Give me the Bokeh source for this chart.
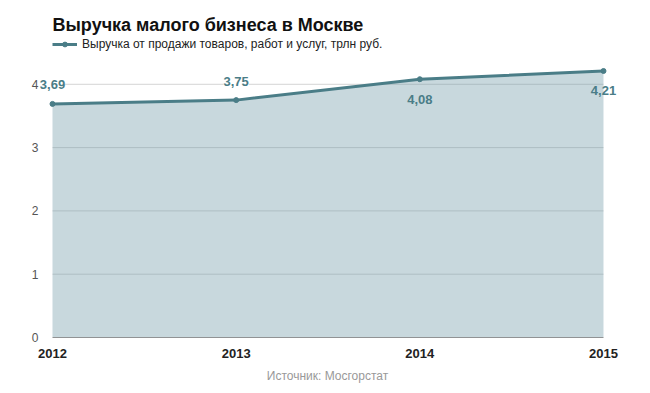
from bokeh.plotting import figure
from bokeh.models import (ColumnDataSource, Range1d, FixedTicker, Label, Legend,
                          LegendItem, Title, CustomJSTickFormatter)
from bokeh.embed import file_html
from bokeh.resources import INLINE

# ---- data ----
years = [2012, 2013, 2014, 2015]
revenue = [3.69, 3.75, 4.08, 4.21]
value_labels = ["3,69", "3,75", "4,08", "4,21"]
label_side = ["above", "above", "below", "below"]
y_ticks = [0, 1, 2, 3, 4]

title_text = "Выручка малого бизнеса в Москве"
series_name = "Выручка от продажи товаров, работ и услуг, трлн руб."
source_text = "Источник: Мосгорстат"

LINE = "#4a7d87"
FONT = "Liberation Sans"

# frame is widened a little beyond the data so that edge labels are not clipped
X_PAD_L, X_PAD_R = 0.2069, 0.2015

src = ColumnDataSource(dict(x=years, y=revenue))
grid_src = ColumnDataSource(dict(y=y_ticks[1:]))

p = figure(width=645, height=390, output_backend="svg", toolbar_location=None,
           x_range=Range1d(years[0] - X_PAD_L, years[-1] + X_PAD_R),
           y_range=Range1d(0, 4.755),
           min_border_left=14, min_border_right=5,
           min_border_top=36, min_border_bottom=53)
p.outline_line_color = None
p.background_fill_color = "white"
p.border_fill_color = "white"

# title
p.title.text = title_text
p.title.text_font = FONT
p.title.text_font_size = "18px"
p.title.text_font_style = "bold"
p.title.text_color = "#111111"
p.title.align = "left"
p.title.offset = 38
p.title.standoff = 4

# horizontal grid lines limited to the data span
p.segment(x0=years[0], x1=years[-1], y0="y", y1="y", source=grid_src,
          line_color="#d4d4d4", line_width=1)

area = p.varea(x="x", y1=0, y2="y", source=src, fill_color="#769eaa", fill_alpha=0.4)
# baseline
p.segment(x0=[years[0]], x1=[years[-1]], y0=[0], y1=[0], line_color="#333333",
          line_width=1)
line = p.line(x="x", y="y", source=src, line_color=LINE, line_width=3)
dots = p.scatter(x="x", y="y", source=src, size=5, fill_color=LINE, line_color=LINE)

legend = Legend(items=[LegendItem(label=series_name, renderers=[line, dots])],
                location=(38, 285), orientation="horizontal",
                border_line_color=None, background_fill_alpha=0,
                margin=0, padding=0, spacing=0, label_standoff=5,
                glyph_width=25, glyph_height=12,
                label_text_font=FONT, label_text_font_size="12px",
                label_text_color="#222222", label_height=16)
p.add_layout(legend)

# axes
p.xaxis.ticker = FixedTicker(ticks=years)
p.xaxis.formatter = CustomJSTickFormatter(code="return String(tick);")
p.xaxis.major_label_text_font = FONT
p.xaxis.major_label_text_font_size = "13px"
p.xaxis.major_label_text_font_style = "bold"
p.xaxis.major_label_text_color = "#222222"
p.xaxis.major_tick_in = 0
p.xaxis.major_tick_out = 0
p.xaxis.minor_tick_line_color = None
p.xaxis.axis_line_color = None
p.xaxis.major_label_standoff = 11

p.yaxis.ticker = FixedTicker(ticks=y_ticks)
p.yaxis.major_label_text_font = FONT
p.yaxis.major_label_text_font_size = "12px"
p.yaxis.major_label_text_color = "#555555"
p.yaxis.major_tick_in = 0
p.yaxis.major_tick_out = 0
p.yaxis.minor_tick_line_color = None
p.yaxis.axis_line_color = None
p.yaxis.major_label_standoff = -24

p.xgrid.grid_line_color = None
p.ygrid.grid_line_color = None

for x, y, lab, side in zip(years, revenue, value_labels, label_side):
    kw = dict(x=x, y=y, text=lab, text_align="center", text_baseline="middle",
              text_font=FONT, text_font_size="13px", text_font_style="bold",
              text_color=LINE)
    if side == "above":
        p.add_layout(Label(y_offset=19, background_fill_color="white", **kw))
    else:
        p.add_layout(Label(y_offset=-20, **kw))

src_title = Title(text=source_text, align="center", text_font=FONT,
                  text_font_size="12px", text_font_style="normal",
                  text_color="#999999", standoff=12, offset=3)
p.add_layout(src_title, "below")

open("out.html", "w").write(file_html(p, INLINE))
